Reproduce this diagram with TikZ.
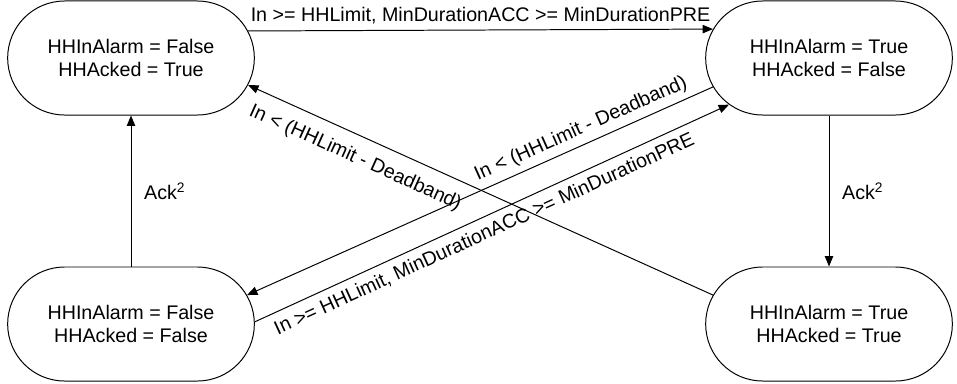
\documentclass[tikz,border=0pt]{standalone}
\usepackage{fontspec}
\setmainfont{Liberation Sans}
\usetikzlibrary{shapes.misc,arrows.meta}
\tikzset{
  state/.style={draw, rounded rectangle, minimum width=6.4cm, minimum height=2.85cm,
    align=center, line width=0.7pt},
  trans/.style={-{Triangle[length=2.6mm,width=2.1mm]}, line width=0.7pt},
  cond/.style={inner sep=1pt}
}
\begin{document}
\begin{tikzpicture}[x=0.025cm, y=-0.025cm, font=\fontsize{14}{16.5}\selectfont]
  %\draw[help lines] (0,0) grid[step=40] (957,383);
  \useasboundingbox (0,0) rectangle (957,383);
  \node[state] (tl) at (131, 58) {HHInAlarm = False\\HHAcked = True};
  \node[state] (tr) at (829, 58) {HHInAlarm = True\\HHAcked = False};
  \node[state] (bl) at (131, 324) {HHInAlarm = False\\HHAcked = False};
  \node[state] (br) at (829, 324) {HHInAlarm = True\\HHAcked = True};

  \draw[trans] (tl.13.6) -- node[cond, above=3pt]
    {In >= HHLimit, MinDurationACC >= MinDurationPRE} (tr.166.4);
  \draw[trans] (bl.north) -- node[cond, right=8pt] {Ack\textsuperscript{2}} (tl.south);
  \draw[trans] (tr.south) -- node[cond, right=8pt] {Ack\textsuperscript{2}} (br.north);
  \draw[trans] (br.166) -- node[cond, sloped, pos=0.75, below=8pt]
    {In < (HHLimit - Deadband)} (tl.-13.5);
  \draw[trans] (tr.-166) -- node[cond, sloped, pos=0.27, above=3pt]
    {In < (HHLimit - Deadband)} (bl.14);
  \draw[trans] (bl.1) -- node[cond, sloped, pos=0.47, below=4pt]
    {In >= HHLimit, MinDurationACC >= MinDurationPRE} (tr.-155);
\end{tikzpicture}
\end{document}
